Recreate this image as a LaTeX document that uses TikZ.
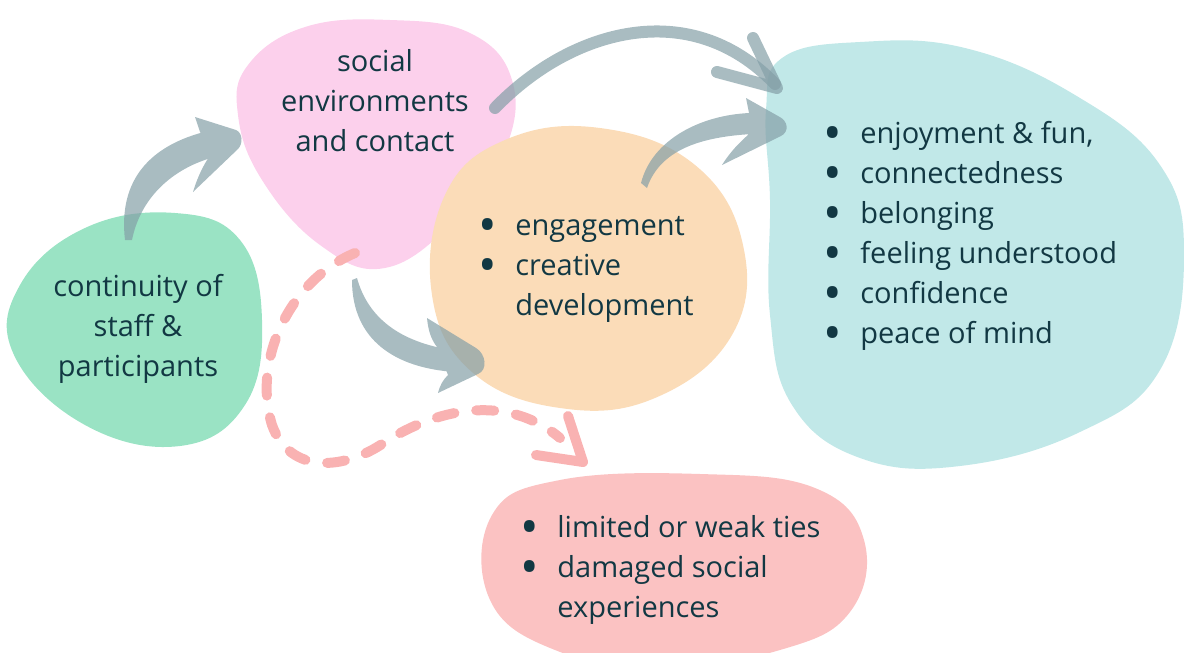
\documentclass[tikz,border=0pt]{standalone}
\usepackage{fontspec}
\setmainfont{Open Sans}
\definecolor{txt}{HTML}{123843}
\definecolor{cgreen}{HTML}{9AE3C4}
\definecolor{cpink}{HTML}{FCD0EC}
\definecolor{corange}{HTML}{FBDCB8}
\definecolor{cteal}{HTML}{C1E8E8}
\definecolor{cred}{HTML}{FBC2C2}
\definecolor{carrow}{RGB}{132,159,167}
\definecolor{cdash}{HTML}{F9B2B2}
\newcommand{\bul}{\llap{\raisebox{-3.6pt}[0pt][0pt]{\scalebox{1.7}{\textbullet}}\hspace{9pt}}}
\newcommand{\blist}[1]{\begin{tabular}{@{}l@{}}#1\end{tabular}}
\begin{document}
\begin{tikzpicture}[x=0.5pt,y=-0.5pt,
  lbl/.style={text=txt,inner sep=0pt,font=\fontsize{14.5}{20}\selectfont},
  thinarrow/.style={draw=carrow,draw opacity=0.7,line width=6pt,line cap=round,line join=round},
  dashline/.style={draw=cdash,line width=5pt,line cap=round,line join=round,dash pattern=on 9pt off 11pt}]
\useasboundingbox (0,0) rectangle (1184,653);
\begin{scope}
\clip (0,0) rectangle (1184,653);
% blobs
\fill[cgreen] plot[smooth cycle,tension=0.7] coordinates{(20,285) (85,228) (175,213) (240,240) (262,320) (245,405) (180,446) (85,425) (14,355)};
\fill[cpink] plot[smooth cycle,tension=0.7] coordinates{(248,65) (305,27) (390,20) (470,33) (512,80) (505,150) (455,220) (385,268) (320,245) (262,180) (238,115)};
\fill[corange] plot[smooth cycle,tension=0.7] coordinates{(445,195) (505,140) (600,128) (695,165) (743,245) (732,335) (655,398) (560,408) (472,372) (432,295)};
\fill[cteal] plot[smooth cycle,tension=0.7] coordinates{(782,58) (860,42) (965,48) (1075,95) (1160,165) (1184,255) (1160,370) (1080,432) (960,466) (860,458) (792,405) (770,315) (770,200) (766,110)};
\fill[cred] plot[smooth cycle,tension=0.7] coordinates{(492,515) (560,480) (700,474) (815,488) (864,540) (850,612) (780,650) (660,668) (555,650) (490,600)};
\end{scope}
% dashed path
\coordinate (ds) at (355,253);
\coordinate (de) at (560,438);
\draw[dashline] (ds) .. controls (290,280) and (252,360) .. (272,425) .. controls (290,475) and (345,470) .. (385,442) .. controls (435,410) and (505,392) .. (de);
\coordinate (dt) at (583,462);
\draw[draw=cdash,line width=5pt,line cap=round,line join=round] (568,416) -- (dt) -- (536,455);
% brush arrow 1: green -> pink
\begin{scope}[transparency group,opacity=0.7]
\fill[carrow] (125,240) .. controls (118,180) and (150,145) .. (208,131) -- (218,156) .. controls (170,168) and (140,200) .. (132,240) -- cycle;
\fill[carrow] (195,117) -- (236,130) .. controls (243,133) and (243,144) .. (238,149) -- (193,192) .. controls (198,175) and (206,160) .. (214,150) -- (200,132) -- cycle;
\end{scope}
% brush arrow 4: pink -> orange
\begin{scope}[transparency group,opacity=0.7]
\fill[carrow] (352,280) .. controls (352,340) and (395,368) .. (455,372) -- (452,350) .. controls (400,342) and (368,318) .. (357,278) -- cycle;
\fill[carrow] (427,318) -- (476,348) .. controls (486,354) and (488,370) .. (478,374) -- (438,393) .. controls (440,385) and (443,380) .. (448,375) -- (437,347) .. controls (430,338) and (428,328) .. (427,318) -- cycle;
\end{scope}
% brush arrow 3: orange -> teal
\begin{scope}[transparency group,opacity=0.7]
\fill[carrow] (647,188) .. controls (660,150) and (700,137) .. (752,134) -- (750,113) .. controls (700,115) and (652,140) .. (641,183) -- cycle;
\fill[carrow] (746,98) -- (778,116) .. controls (789,121) and (789,132) .. (781,136) -- (722,165) .. controls (730,152) and (740,142) .. (748,135) -- (749,113) -- cycle;
\end{scope}
% thin arrow 2: pink -> teal
\draw[thinarrow] (495,108) .. controls (570,30) and (690,-5) .. (775,84);
\draw[thinarrow] (753,38) -- (777,88) -- (717,72);
% texts
\node[lbl,align=center] (cont) at (138,329) {continuity of\\staff \&\\participants};
\node[lbl,align=center] (soc) at (375,101) {social\\environments\\and contact};
\node[lbl,anchor=west] (eng) at (515,267) {\fontsize{14.5}{20}\selectfont\blist{\bul engagement\\ \bul creative\\ development}};
\node[lbl,anchor=west] (out) at (860,235) {\fontsize{14.5}{20}\selectfont\blist{\bul enjoyment \& fun,\\ \bul connectedness\\ \bul belonging\\ \bul feeling understood\\ \bul confidence\\ \bul peace of mind}};
\node[lbl,anchor=west] (neg) at (557,569) {\fontsize{14.5}{20}\selectfont\blist{\bul limited or weak ties\\ \bul damaged social\\ experiences}};
\end{tikzpicture}
\end{document}
